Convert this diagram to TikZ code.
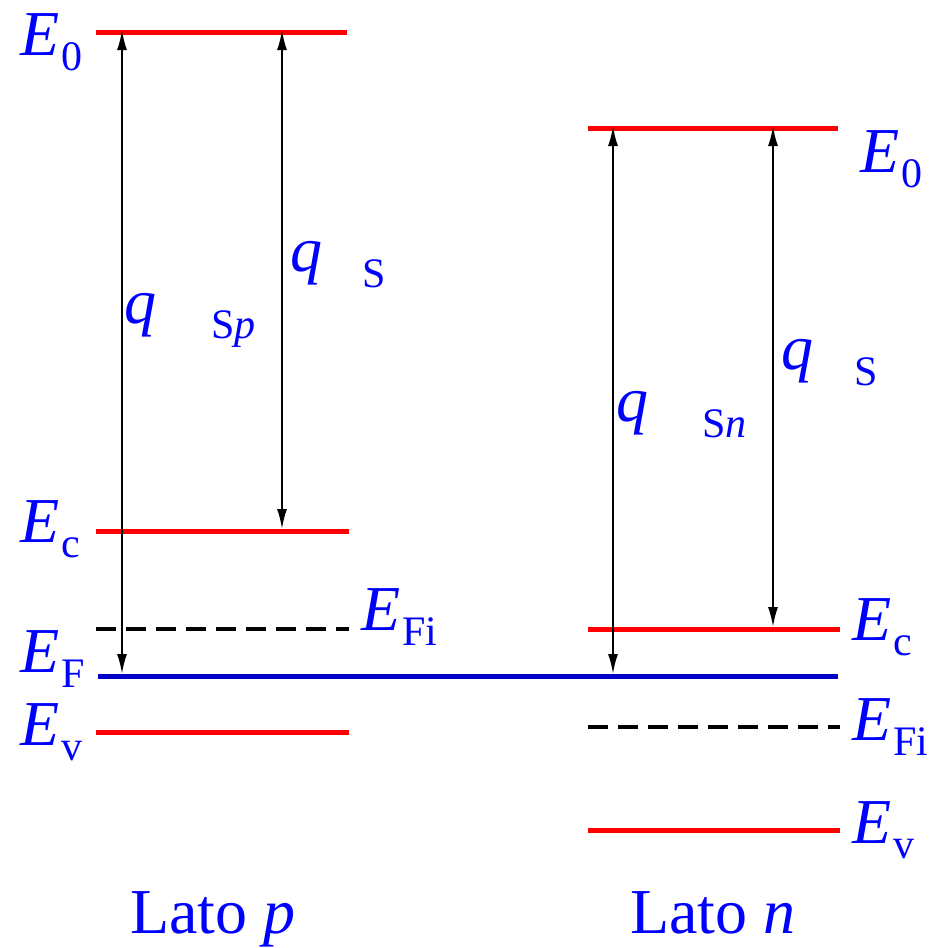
\documentclass[tikz,border=0pt]{standalone}
\usepackage{fontspec}
\setmainfont{Liberation Serif}
\usetikzlibrary{arrows.meta}
\definecolor{lblue}{RGB}{0,0,255}
\definecolor{fblue}{RGB}{0,0,200}
\definecolor{lred}{RGB}{255,0,0}
\newcommand\bigsz{\fontsize{64}{64}\selectfont}
\newcommand\subsz{\fontsize{42}{42}\selectfont}
\newcommand\Elab[1]{\textit{E}\kern2pt\raisebox{-15pt}{\subsz #1}}
\tikzset{
  band/.style={draw=lred, line width=5pt},
  fermi/.style={draw=fblue, line width=5pt},
  intr/.style={draw=black, line width=4.5pt, dash pattern=on 20pt off 10pt},
  gap/.style={draw=black, line width=2pt, {Latex[length=20pt,width=10pt]}-{Latex[length=20pt,width=10pt]}},
  lab/.style={text=lblue, inner sep=0pt, anchor=base west, font=\bigsz},
  slab/.style={text=lblue, inner sep=0pt, anchor=base west, font=\subsz}
}
\begin{document}
\begin{tikzpicture}[x=1pt,y=-1pt]
\useasboundingbox (0,0) rectangle (937,948);
% left side levels
\coordinate (LE0a) at (96,32);  \coordinate (LE0b) at (347,32);
\coordinate (LEca) at (96,531); \coordinate (LEcb) at (349,531);
\coordinate (LFia) at (96,629); \coordinate (LFib) at (349,629);
\coordinate (LEva) at (96,732); \coordinate (LEvb) at (349,732);
% right side levels
\coordinate (RE0a) at (588,128); \coordinate (RE0b) at (838,128);
\coordinate (REca) at (588,629); \coordinate (REcb) at (840,629);
\coordinate (RFia) at (588,727); \coordinate (RFib) at (840,727);
\coordinate (REva) at (588,830); \coordinate (REvb) at (840,830);
% Fermi level
\coordinate (EFa) at (98,676); \coordinate (EFb) at (838,676);

\draw[band] (LE0a) -- (LE0b);
\draw[band] (LEca) -- (LEcb);
\draw[intr] (LFia) -- (LFib);
\draw[band] (LEva) -- (LEvb);
\draw[band] (RE0a) -- (RE0b);
\draw[band] (REca) -- (REcb);
\draw[intr] (RFia) -- (RFib);
\draw[band] (REva) -- (REvb);
\draw[fermi] (EFa) -- (EFb);

% arrow end points
\coordinate (A1t) at (122,30);  \coordinate (A1b) at (122,674);
\coordinate (A2t) at (282,30);  \coordinate (A2b) at (282,529);
\coordinate (A3t) at (613,126); \coordinate (A3b) at (613,674);
\coordinate (A4t) at (773,126); \coordinate (A4b) at (773,627);
\draw[gap] (A1t) -- (A1b);
\draw[gap] (A2t) -- (A2b);
\draw[gap] (A3t) -- (A3b);
\draw[gap] (A4t) -- (A4b);

% q labels
\node[lab] (q1) at (124,323) {\textit{q}};
\node[slab] (s1) at (211,338) {S\textit{p}};
\node[lab] (q2) at (290,271) {\textit{q}};
\node[slab] (s2) at (362,287) {S};
\node[lab] (q3) at (616,421) {\textit{q}};
\node[slab] (s3) at (702,437) {S\textit{n}};
\node[lab] (q4) at (781,369) {\textit{q}};
\node[slab] (s4) at (854,385) {S};

% energy labels
\node[lab] (lE0) at (20,55) {\Elab{0}};
\node[lab] (lEc) at (20,542) {\Elab{c}};
\node[lab] (lEF) at (20,672) {\Elab{F}};
\node[lab] (lEv) at (20,745) {\Elab{v}};
\node[lab] (lEFi) at (361,630) {\Elab{Fi}};
\node[lab] (rE0) at (860,172) {\Elab{0}};
\node[lab] (rEc) at (852,640) {\Elab{c}};
\node[lab] (rEFi) at (852,740) {\Elab{Fi}};
\node[lab] (rEv) at (852,843) {\Elab{v}};

% side labels
\node[lab] (latop) at (130,933) {Lato \textit{p}};
\node[lab] (laton) at (630,933) {Lato \textit{n}};
\end{tikzpicture}
\end{document}
